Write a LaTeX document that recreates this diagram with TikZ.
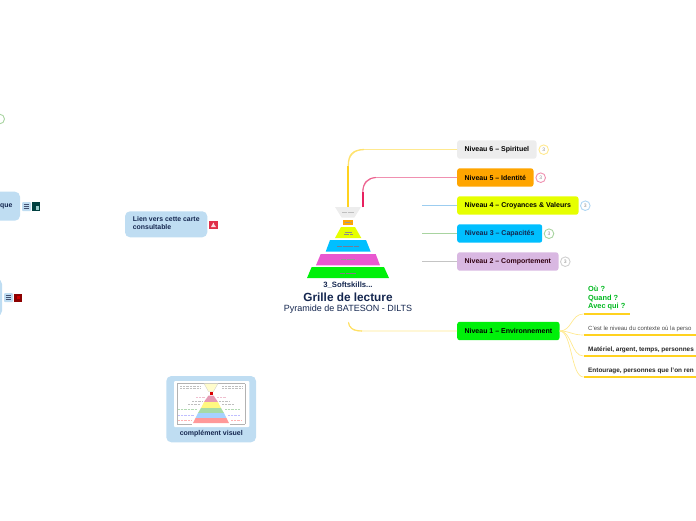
\documentclass[tikz,border=0pt]{standalone}
\usepackage{fontspec}
\setmainfont{Liberation Sans}
\definecolor{navy}{HTML}{14264F}
\definecolor{paleblue}{HTML}{BFDDF2}
\definecolor{paleyellow}{HTML}{FFE98F}
\definecolor{strongyellow}{HTML}{FFD21F}
\definecolor{palepink}{HTML}{F090B0}
\definecolor{strongpink}{HTML}{E8205F}
\definecolor{greyfill}{HTML}{EDEDED}
\definecolor{orangefill}{HTML}{FFA500}
\definecolor{limefill}{HTML}{E6FF00}
\definecolor{skyfill}{HTML}{00BFFF}
\definecolor{mauvefill}{HTML}{D9B8E2}
\definecolor{greenfill}{HTML}{00F00A}
\definecolor{magentafill}{HTML}{E858D0}
\definecolor{linkblue}{HTML}{9CCDF0}
\definecolor{linkgreen}{HTML}{A8D4A0}
\definecolor{linkgrey}{HTML}{C4C4C4}
\definecolor{iconred}{HTML}{E0304A}
\tikzset{
  x=1pt,y=-1pt,
  level/.style={rounded corners=2.5pt,minimum height=18.4pt,inner sep=0pt,anchor=west,font=\fontsize{7}{8}\selectfont\bfseries,text=black},
  badge/.style={circle,draw,line width=0.9pt,minimum size=9.6pt,inner sep=0pt,font=\fontsize{5}{6}\selectfont,fill=white},
  bluebox/.style={fill=paleblue,rounded corners=5pt},
  note/.style={anchor=west,inner sep=0pt,font=\fontsize{6}{7.5}\selectfont},
  notebold/.style={note,font=\fontsize{6.4}{7.5}\selectfont\bfseries,text=black!85},
  boxtext/.style={inner sep=0pt,text=navy,font=\fontsize{6.9}{8}\selectfont\bfseries},
  thinlink/.style={line width=0.6pt},
  under/.style={draw=strongyellow,line width=1.3pt},
  fan/.style={draw=paleyellow,line width=0.7pt},
  smudge/.style={line width=0.5pt,dash pattern=on 0.7pt off 0.4pt},
  minidash/.style={line width=0.6pt,dash pattern=on 1pt off 0.4pt},
  listicon/.style={fill=paleblue,rounded corners=1pt,minimum size=9pt,inner sep=0pt}
}
\begin{document}
\begin{tikzpicture}
\useasboundingbox (0,0) rectangle (696,520);
\clip (0,0) rectangle (696,520);
% --- pyramid ---
\fill[greyfill] (335,207) -- (361,207) -- (354.3,217.7) -- (341.7,217.7) -- cycle;
\fill[orangefill] (343,219.7) rectangle (353,225.3);
\fill[limefill] (341,227) -- (355,227) -- (361.3,238) -- (335,238) -- cycle;
\fill[skyfill] (330,240) -- (366,240) -- (370.7,251.7) -- (325.7,251.7) -- cycle;
\fill[magentafill] (320.7,254) -- (375.7,254) -- (380,265.3) -- (316,265.3) -- cycle;
\fill[greenfill] (311.7,267) -- (384,267) -- (389,278) -- (307,278) -- cycle;
\draw[smudge,draw=black!25] (342,212.3) -- (354,212.3);
\draw[smudge,draw=black!40] (345,222.5) -- (351,222.5);
\draw[smudge,draw=black!45] (344.5,232) -- (351.5,232) (344,234) -- (352,234);
\draw[smudge,draw=navy!60] (337,246) -- (359,246);
\draw[smudge,draw=black!40] (341,259.5) -- (355,259.5);
\draw[smudge,draw=black!50] (340,273) -- (356,273);
% --- central titles ---
\node[inner sep=0pt,text=navy,font=\fontsize{7.7}{9}\selectfont\bfseries] (kicker) at (348,285.5) {3\_Softskills...};
\node[inner sep=0pt,text=navy,font=\fontsize{11.8}{14}\selectfont\bfseries] (title) at (348,297.5) {Grille de lecture};
\node[inner sep=0pt,text=navy,font=\fontsize{9}{11}\selectfont] (subtitle) at (348,309) {Pyramide de BATESON - DILTS};
% --- anchors on the pyramid ---
\coordinate (p6) at (348.3,207);
\coordinate (p5) at (362.8,207);
\coordinate (p4) at (422,205.5);
\coordinate (p3) at (422,233.5);
\coordinate (p2) at (422,261.5);
\coordinate (p1) at (348.5,322.5);
% --- level nodes ---
\node[level,fill=greyfill,minimum width=79.3pt] (n6) at (457,149.5) {Niveau 6 – Spirituel};
\node[level,fill=orangefill,minimum width=76.3pt] (n5) at (457,177.5) {Niveau 5 – Identité};
\node[level,fill=limefill,minimum width=121.3pt] (n4) at (457,205.5) {Niveau 4 – Croyances \& Valeurs};
\node[level,fill=skyfill,minimum width=85pt,text=navy] (n3) at (457,233.5) {Niveau 3 – Capacités};
\node[level,fill=mauvefill,minimum width=101.3pt,text=black!75!purple] (n2) at (457,261.5) {Niveau 2 – Comportement};
\node[level,fill=greenfill,minimum width=102.3pt] (n1) at (457,331) {Niveau 1 – Environnement};
% --- badges ---
\node[badge,draw=paleyellow,text=black!45] (b6) at (543.7,149.7) {3};
\node[badge,draw=palepink,text=black!45] (b5) at (540.7,177.7) {3};
\node[badge,draw=linkblue!80!white,text=black!45] (b4) at (585.3,205.7) {3};
\node[badge,draw=linkgreen,text=black!45] (b3) at (549,233.7) {3};
\node[badge,draw=linkgrey!80!white,text=black!45] (b2) at (565.3,261.7) {3};
\node[badge,draw=linkgreen] (b0) at (-0.3,119) {};
% --- main connectors ---
\draw[thinlink,draw=paleyellow,rounded corners=15pt] (n6.west) -| (p6);
\draw[line width=1.8pt,draw=strongyellow] (p6) -- (348.3,166);
\draw[line width=1.3pt,draw=paleyellow!70!strongyellow] (348.3,166) .. controls (348.3,155) and (352,150) .. (364,149.5);
\draw[thinlink,draw=palepink,rounded corners=14pt] (n5.west) -| (p5);
\draw[line width=1.8pt,draw=strongpink] (p5) -- (362.8,192);
\draw[line width=1.1pt,draw=palepink!60!strongpink] (362.8,192) .. controls (363,183) and (367,178) .. (376,177.5);
\draw[thinlink,draw=linkblue] (p4) -- (n4.west);
\draw[thinlink,draw=linkgreen] (p3) -- (n3.west);
\draw[thinlink,draw=linkgrey] (p2) -- (n2.west);
\draw[thinlink,draw=paleyellow,rounded corners=9pt] (n1.west) -| (p1);
\draw[line width=1.1pt,draw=paleyellow!60!strongyellow] (p1) .. controls (349,327) and (352,330.7) .. (362,331);
% --- leaves of niveau 1 ---
\node[anchor=north west,inner sep=0pt,align=left,text={rgb,255:red,0;green,184;blue,31},font=\fontsize{7.4}{8.2}\selectfont\bfseries] (w) at (588,286.3) {Où ?\\Quand ?\\Avec qui ?};
\node[note,text=black!70] (c) at (588,328.7) {C'est le niveau du contexte où la perso};
\node[notebold] (m) at (588,350) {Matériel, argent, temps, personnes};
\node[notebold] (e) at (588,371) {Entourage, personnes que l'on ren};
\coordinate (u1a) at (583.5,314); \coordinate (u1b) at (630,314);
\coordinate (u2a) at (583.5,335); \coordinate (u2b) at (696,335);
\coordinate (u3a) at (583.5,356); \coordinate (u3b) at (696,356);
\coordinate (u4a) at (583.5,377); \coordinate (u4b) at (696,377);
\draw[under] (u1a) -- (u1b);
\draw[under] (u2a) -- (u2b);
\draw[under] (u3a) -- (u3b);
\draw[under] (u4a) -- (u4b);
\draw[fan] (n1.east) .. controls (572,331) and (571,314) .. (u1a);
\draw[fan] (n1.east) .. controls (570,331) and (572,335) .. (u2a);
\draw[fan] (n1.east) .. controls (572,331) and (571,356) .. (u3a);
\draw[fan] (n1.east) .. controls (572,331) and (571,377) .. (u4a);
% --- lien vers cette carte ---
\fill[bluebox] (125,211.3) rectangle (207.3,237.3);
\node[boxtext,anchor=north west,align=left] (lien) at (132.7,216.7) {Lien vers cette carte\\consultable};
\fill[iconred] (209.3,220.7) rectangle (217.7,228.7);
\fill[white!85!iconred] (211,227) -- (213.5,222.5) -- (214.2,224.5) -- (216,227) -- cycle;
% --- boxes cut by the left edge ---
\fill[bluebox] (-20,191.7) rectangle (20,220.7);
\node[boxtext,anchor=east] (q) at (12.7,206.6) {que};
\fill[bluebox] (-20,279) rectangle (2,316);
\node[listicon] (l1) at (26.5,206.5) {};
\draw[navy!80,line width=0.6pt] (23.7,204.3) -- (29.3,204.3) (23.7,206.3) -- (29.3,206.3) (23.7,208.3) -- (29.3,208.3);
\fill[teal!50!black] (32,202) rectangle (40,211);
\fill[teal!40!white] (36,206) rectangle (38.5,210);
\node[listicon] (l2) at (8.5,297.5) {};
\draw[navy!80,line width=0.6pt] (5.7,295.3) -- (11.3,295.3) (5.7,297.3) -- (11.3,297.3) (5.7,299.3) -- (11.3,299.3);
\fill[red!55!black] (14,294) rectangle (22,302);
\fill[red!80!black] (16.5,296) rectangle (19.5,299);
% --- complement visuel ---
\fill[bluebox] (166.3,376) rectangle (256,442.3);
\fill[white,rounded corners=1pt] (174,381) rectangle (249.3,427);
\node[boxtext,font=\fontsize{7}{8}\selectfont\bfseries] (cv) at (211.3,434) {complément visuel};
\draw[black!30,line width=0.4pt] (177,383.5) -- (245,383.5) (177,383.5) -- (177,424) (245,383.5) -- (245,424);
\fill[yellow!20!white,draw=black!20,line width=0.3pt] (204,383.5) -- (218,383.5) -- (213.5,391.5) -- (208.5,391.5) -- cycle;
\fill[red!85!black] (209.7,391.5) rectangle (213,395);
\fill[purple!40!white] (208.5,395.5) -- (213.5,395.5) -- (218,402) -- (204,402) -- cycle;
\fill[yellow!50!white] (204,402) -- (218,402) -- (221,408) -- (201,408) -- cycle;
\fill[green!60!black!35!white] (201,408) -- (221,408) -- (224,413) -- (198,413) -- cycle;
\fill[blue!50!cyan!35!white] (198,413) -- (224,413) -- (226.5,418) -- (195.5,418) -- cycle;
\fill[red!40!white] (195.5,418) -- (226.5,418) -- (229,423) -- (193,423) -- cycle;
\draw[minidash,draw=black!25] (180,386) -- (200,386) (180,388.5) -- (200,388.5) (222,386) -- (242,386) (222,388.5) -- (242,388.5) (192,401) -- (203,401) (219,401) -- (230,401) (188,404) -- (200,404) (222,404) -- (234,404);
\draw[minidash,draw=purple!25] (196,397.5) -- (205,397.5) (217,397.5) -- (226,397.5);
\draw[minidash,draw=green!50!black!30] (178,409) -- (197,409) (225,409) -- (240,409);
\draw[minidash,draw=blue!25] (178,415) -- (194,415) (228,415) -- (240,415);
\draw[minidash,draw=red!30] (178,420) -- (191,420) (231,420) -- (242,420);
\draw[black!30,line width=0.5pt] (177,424) -- (192,424) (230,424) -- (245,424);
\end{tikzpicture}
\end{document}
